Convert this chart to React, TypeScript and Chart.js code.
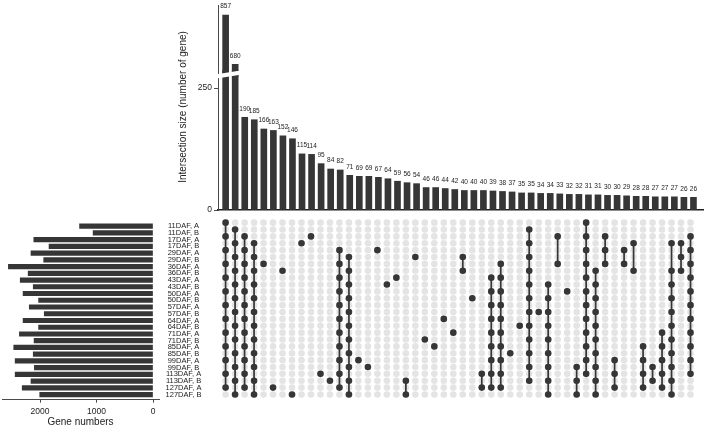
import React, { useEffect, useRef } from 'react';
import { Chart, registerables } from 'chart.js';

Chart.register(...registerables);

const setNames = [
  '11DAF, A', '11DAF, B', '17DAF, A', '17DAF, B', '29DAF, A', '29DAF, B',
  '36DAF, A', '36DAF, B', '43DAF, A', '43DAF, B', '50DAF, A', '50DAF, B',
  '57DAF, A', '57DAF, B', '64DAF, A', '64DAF, B', '71DAF, A', '71DAF, B',
  '85DAF, A', '85DAF, B', '99DAF, A', '99DAF, B', '113DAF, A', '113DAF, B',
  '127DAF, A', '127DAF, B',
];

const setSizes = [
  1300, 1060, 2110, 1840, 2160, 1935, 2560, 2210, 2350, 2120, 2300, 2025,
  2190, 1925, 2300, 2025, 2365, 2105, 2465, 2120, 2440, 2100, 2440, 2160,
  2315, 2005,
];

const intersectionSizes = [
  857, 680, 190, 185, 166, 163, 152, 146, 115, 114, 95, 84, 82, 71, 69, 69,
  67, 64, 59, 56, 54, 46, 46, 44, 42, 40, 40, 40, 39, 38, 37, 35, 35, 34, 34,
  33, 32, 32, 31, 31, 30, 30, 29, 28, 28, 27, 27, 27, 26, 26,
];

// row indices (into setNames) that belong to each intersection column
const intersectionSets = [
  [0, 2, 4, 6, 8, 10, 12, 14, 16, 18, 20, 22, 24],
  [1, 3, 5, 7, 9, 11, 13, 15, 17, 19, 21, 23, 25],
  [2, 4, 6, 8, 10, 12, 14, 16, 18, 20, 22, 24],
  [3, 5, 7, 9, 11, 13, 15, 17, 19, 21, 23, 25],
  [6], [24], [7], [25], [3], [2], [22], [23],
  [4, 6, 8, 10, 12, 14, 16, 18, 20, 22, 24],
  [5, 7, 9, 11, 13, 15, 17, 19, 21, 23, 25],
  [20], [21], [4], [9], [8], [23, 25], [5], [17], [18], [14], [16],
  [5, 7], [11], [22, 24],
  [8, 10, 12, 14, 16, 18, 20, 22, 24],
  [6, 8, 10, 12, 14, 16, 18, 20, 22, 24],
  [19], [15],
  [1, 3, 5, 7, 9, 11, 13, 15, 17, 19, 21, 23],
  [13],
  [9, 11, 13, 15, 17, 19, 21, 23, 25],
  [2, 6], [10], [21, 23, 25],
  [0, 2, 4, 6, 8, 10, 12, 14, 16, 18, 20, 22],
  [7, 9, 11, 13, 15, 17, 19, 21, 23, 25],
  [2, 4, 6], [20, 22, 24], [4, 6], [3, 7], [18, 20, 22, 24], [21, 23],
  [16, 18, 20, 22, 24],
  [3, 7, 9, 11, 13, 15, 17, 19, 21, 23, 25],
  [3, 5, 7],
  [2, 4, 6, 8, 10, 12, 14, 16, 18, 20, 22],
];

const barTicks = [0, 250];
const geneTicks = [0, 1000, 2000];
const yTitle = 'Intersection size (number of gene)';
const xLeftTitle = 'Gene numbers';

const FONT = "'Liberation Sans', Arial, Helvetica, sans-serif";
const DARK = '#363636';
const LIGHT = '#e4e4e4';
const TEXT = '#222222';
const AXIS = '#4a4a4a';

Chart.defaults.font.family = FONT;
Chart.defaults.color = TEXT;

const COL_MIN = -0.8;
const COL_MAX = 50.0;
const ROW_MIN = -0.75;
const ROW_MAX = 25.75;

const baseOpts = {
  animation: false as const,
  responsive: false,
  maintainAspectRatio: false,
  events: [] as any[],
  plugins: { legend: { display: false }, tooltip: { enabled: false }, title: { display: false } },
};

function makeBarLabels() {
  return {
    id: 'barLabels',
    afterDatasetsDraw(chart: any) {
      const ctx = chart.ctx;
      const meta = chart.getDatasetMeta(0);
      const ys = chart.scales.y;
      ctx.save();
      ctx.font = `6.5px ${FONT}`;
      ctx.fillStyle = TEXT;
      ctx.textAlign = 'center';
      ctx.textBaseline = 'middle';
      meta.data.forEach((el: any, i: number) => {
        const v = intersectionSizes[i];
        if (v < ys.min || v > ys.max) return;
        ctx.fillText(String(v), el.x, el.y - 8.5);
      });
      ctx.restore();
    },
  };
}

const colX = {
  type: 'linear' as const,
  min: COL_MIN,
  max: COL_MAX,
  offset: false,
};

export default function App() {
  const upperRef = useRef<HTMLCanvasElement>(null);
  const lowerRef = useRef<HTMLCanvasElement>(null);
  const matrixRef = useRef<HTMLCanvasElement>(null);
  const leftRef = useRef<HTMLCanvasElement>(null);

  useEffect(() => {
    const barData = intersectionSizes.map((v, i) => ({ x: i, y: v }));

    // lower part of the broken intersection-size axis
    const lower = new Chart(lowerRef.current as HTMLCanvasElement, {
      type: 'bar',
      data: {
        datasets: [{ data: barData, backgroundColor: DARK, barThickness: 6, clip: 0 } as any],
      },
      options: {
        ...baseOpts,
        layout: { padding: { left: 0, right: 1, top: 70, bottom: 10 } },
        scales: {
          x: {
            ...colX,
            ticks: { display: false },
            grid: { drawOnChartArea: false, drawTicks: false, offset: false },
            border: { display: true, color: '#1e1e1e', width: 1.5 },
            afterFit: (s: any) => { s.height = 0; },
          },
          y: {
            type: 'linear',
            min: 0,
            max: 286.9,
            afterBuildTicks: (s: any) => { s.ticks = barTicks.map((v) => ({ value: v })); },
            afterFit: (s: any) => { s.width = 68; },
            ticks: { font: { size: 8.5 }, color: TEXT, padding: 2, callback: (v: any) => String(v) },
            grid: { drawOnChartArea: false, tickLength: 4, color: AXIS },
            border: { display: true, color: AXIS, width: 1 },
          },
        },
      } as any,
      plugins: [
        makeBarLabels(),
        {
          id: 'yTitle',
          afterDraw(chart: any) {
            const ctx = chart.ctx;
            ctx.save();
            ctx.translate(chart.chartArea.left - 34.5, 107);
            ctx.rotate(-Math.PI / 2);
            ctx.font = `10px ${FONT}`;
            ctx.fillStyle = TEXT;
            ctx.textAlign = 'center';
            ctx.textBaseline = 'middle';
            ctx.fillText(yTitle, 0, 0);
            ctx.restore();
          },
        },
      ],
    });

    // upper part of the broken axis
    const upper = new Chart(upperRef.current as HTMLCanvasElement, {
      type: 'bar',
      data: {
        datasets: [{ data: barData, backgroundColor: DARK, barThickness: 6, clip: 0 } as any],
      },
      options: {
        ...baseOpts,
        layout: { padding: { left: 0, right: 1, top: 5, bottom: 13.5 } },
        scales: {
          x: { ...colX, display: false },
          y: {
            type: 'linear',
            min: 636.2,
            max: 892.9,
            afterFit: (s: any) => { s.width = 68; },
            ticks: { display: false },
            grid: { drawOnChartArea: false, drawTicks: false },
            border: { display: true, color: AXIS, width: 1 },
          },
        },
      } as any,
      plugins: [
        makeBarLabels(),
        {
          id: 'axisBreak',
          afterDraw(chart: any) {
            const ctx = chart.ctx;
            const left = chart.chartArea.left;
            const bottom = chart.chartArea.bottom;
            const x0 = left - 6;
            const x1 = left + 24;
            const yt = (x: number) => bottom - 3 - 0.16 * (x - left - 4);
            ctx.save();
            ctx.fillStyle = '#ffffff';
            ctx.beginPath();
            ctx.moveTo(x0, yt(x0));
            ctx.lineTo(x1, yt(x1));
            ctx.lineTo(x1, yt(x1) + 4.2);
            ctx.lineTo(x0, yt(x0) + 4.2);
            ctx.closePath();
            ctx.fill();
            ctx.restore();
          },
        },
      ],
    });

    // membership matrix
    const bgPts: { x: number; y: number }[] = [];
    intersectionSizes.forEach((_, c) => {
      setNames.forEach((_, r) => bgPts.push({ x: c, y: r }));
    });
    const inPts: { x: number; y: number }[] = [];
    const lineSets: any[] = [];
    intersectionSets.forEach((rows, c) => {
      rows.forEach((r) => inPts.push({ x: c, y: r }));
      if (rows.length > 1) {
        lineSets.push({
          type: 'line',
          data: [{ x: c, y: Math.min(...rows) }, { x: c, y: Math.max(...rows) }],
          borderColor: DARK,
          borderWidth: 1.7,
          pointRadius: 0,
          showLine: true,
          order: 1,
        });
      }
    });

    const matrix = new Chart(matrixRef.current as HTMLCanvasElement, {
      type: 'scatter',
      data: {
        datasets: [
          { data: inPts, pointRadius: 3.3, backgroundColor: DARK, borderWidth: 0, order: 0 } as any,
          ...lineSets,
          { data: bgPts, pointRadius: 3.3, backgroundColor: LIGHT, borderWidth: 0, order: 2 } as any,
        ],
      },
      options: {
        ...baseOpts,
        layout: { padding: { left: 68, right: 1, top: 7.5, bottom: 28.35 } },
        scales: {
          x: { ...colX, display: false },
          y: { type: 'linear', min: ROW_MIN, max: ROW_MAX, reverse: true, offset: false, display: false },
        },
      } as any,
    });

    // set sizes (left)
    const left = new Chart(leftRef.current as HTMLCanvasElement, {
      type: 'bar',
      data: {
        datasets: [
          {
            data: setSizes.map((v, i) => ({ x: v, y: i })),
            backgroundColor: DARK,
            barThickness: 4.5,
            clip: 0,
          } as any,
        ],
      },
      options: {
        ...baseOpts,
        indexAxis: 'y',
        layout: { padding: { left: 2, right: 0, top: 7.5, bottom: 0 } },
        scales: {
          x: {
            type: 'linear',
            min: -106,
            max: 2673,
            reverse: true,
            afterBuildTicks: (s: any) => { s.ticks = geneTicks.map((v) => ({ value: v })); },
            afterFit: (s: any) => { s.height = 28.35; },
            ticks: { font: { size: 8.5 }, color: TEXT, padding: 4, maxRotation: 0, autoSkip: false, callback: (v: any) => String(v) },
            grid: { drawOnChartArea: false, tickLength: 3, color: AXIS },
            border: { display: true, color: AXIS, width: 1 },
            title: { display: true, text: xLeftTitle, font: { size: 10 }, color: TEXT, padding: 0 },
          },
          y: {
            type: 'linear',
            position: 'right',
            min: ROW_MIN,
            max: ROW_MAX,
            reverse: true,
            offset: false,
            afterBuildTicks: (s: any) => { s.ticks = setNames.map((_, i) => ({ value: i })); },
            afterFit: (s: any) => { s.width = 59; },
            ticks: {
              font: { size: 7.5 },
              color: TEXT,
              padding: 6.6,
              crossAlign: 'center',
              autoSkip: false,
              callback: (v: any) => setNames[v],
            },
            grid: { display: false, drawTicks: false, offset: false },
            border: { display: false },
          },
        },
      } as any,
    });

    return () => {
      upper.destroy();
      lower.destroy();
      matrix.destroy();
      left.destroy();
    };
  }, []);

  const abs = (l: number, t: number, w: number, h: number): React.CSSProperties => ({
    position: 'absolute', left: l, top: t, width: w, height: h,
  });

  return (
    <div style={{ position: 'absolute', left: 0, top: 0, width: 704, height: 428, background: '#ffffff', overflow: 'hidden' }}>
      <canvas ref={lowerRef} width={554} height={220} style={abs(150, 0, 554, 220)} />
      <canvas ref={matrixRef} width={554} height={218} style={abs(150, 210, 554, 218)} />
      <canvas ref={leftRef} width={218} height={218} style={abs(0, 210, 218, 218)} />
      <canvas ref={upperRef} width={554} height={90} style={abs(150, 0, 554, 90)} />
    </div>
  );
}
